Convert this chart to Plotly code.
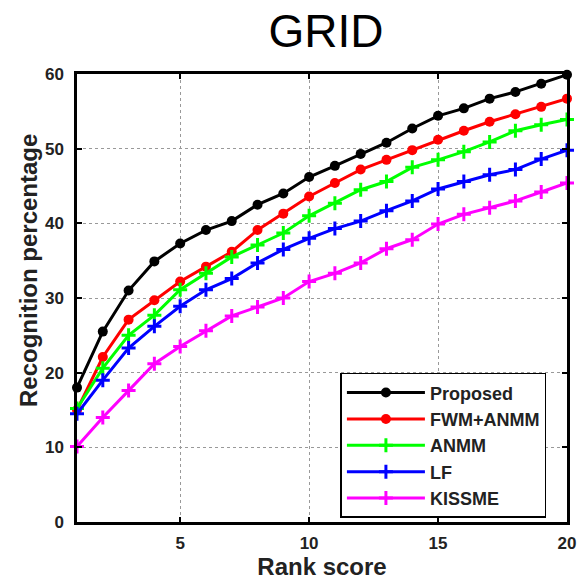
import plotly.graph_objects as go

rank = list(range(1, 21))
proposed = [18.0, 25.5, 31.0, 34.9, 37.3, 39.1, 40.3, 42.5, 44.0, 46.2,
            47.7, 49.3, 50.8, 52.7, 54.4, 55.4, 56.7, 57.6, 58.7, 59.9]
fwm_anmm = [15.0, 22.1, 27.1, 29.7, 32.2, 34.2, 36.2, 39.1, 41.3, 43.6,
            45.4, 47.2, 48.5, 49.8, 51.2, 52.4, 53.6, 54.6, 55.6, 56.7]
anmm = [15.2, 20.6, 25.0, 27.7, 31.1, 33.3, 35.5, 37.1, 38.7, 41.0,
        42.7, 44.5, 45.6, 47.5, 48.5, 49.6, 50.9, 52.4, 53.2, 53.9]
lf = [14.5, 19.0, 23.3, 26.2, 28.9, 31.1, 32.6, 34.7, 36.5, 38.0,
      39.3, 40.3, 41.7, 43.0, 44.6, 45.6, 46.5, 47.2, 48.6, 49.8]
kissme = [10.1, 14.0, 17.6, 21.2, 23.5, 25.6, 27.6, 28.8, 30.0, 32.2,
          33.3, 34.7, 36.6, 37.8, 39.9, 41.2, 42.1, 43.0, 44.2, 45.4]

series = [
    ("Proposed", proposed, "#000000", "circle"),
    ("FWM+ANMM", fwm_anmm, "#ff0000", "circle"),
    ("ANMM", anmm, "#00ff00", "cross-thin"),
    ("LF", lf, "#0000ff", "cross-thin"),
    ("KISSME", kissme, "#ff00ff", "cross-thin"),
]

FONT = "Liberation Sans, Arial"
TXT = "#222222"

fig = go.Figure()
for name, vals, color, sym in series:
    if sym == "circle":
        marker = dict(symbol="circle", size=10, color=color)
    else:
        marker = dict(symbol=sym, size=10, color=color, line=dict(color=color, width=3))
    fig.add_trace(go.Scatter(
        x=rank, y=vals, name=name, mode="lines+markers",
        line=dict(color=color, width=3), marker=marker, cliponaxis=False,
    ))

axis_common = dict(
    showline=True, linecolor="black", linewidth=2.5, mirror="ticks",
    ticks="inside", ticklen=5, tickwidth=1.5, tickcolor="black",
    showgrid=True, gridcolor="#999999", griddash="dot", gridwidth=1,
    zeroline=False, automargin=False,
    tickfont=dict(family=FONT, size=17, color=TXT, weight="bold"),
)

fig.update_layout(
    width=581, height=581,
    margin=dict(l=77, r=14, t=74, b=59),
    paper_bgcolor="white", plot_bgcolor="white",
    title=dict(text="GRID", x=0.561, xanchor="center", y=0.947, yanchor="middle",
               font=dict(family=FONT, size=46, color="black")),
    xaxis=dict(range=[1, 20], tickvals=[5, 10, 15, 20], ticklabelstandoff=4,
               title=dict(text="Rank score", standoff=2,
                          font=dict(family=FONT, size=24, color=TXT, weight="bold")),
               **axis_common),
    yaxis=dict(range=[0, 60], tickvals=[0, 10, 20, 30, 40, 50, 60], ticklabelstandoff=7,
               **axis_common),
    annotations=[dict(
        text="Recognition percentage", textangle=-90,
        xref="paper", yref="paper",
        x=(28 - 77) / 490, y=(522 - 271) / 448,
        xanchor="center", yanchor="middle", showarrow=False,
        font=dict(family=FONT, size=24, color=TXT, weight="bold"),
    )],
    legend=dict(x=0.958, xanchor="right", y=0.333, yanchor="top",
                bordercolor="black", borderwidth=1.5, bgcolor="white",
                itemwidth=78, tracegroupgap=0,
                font=dict(family=FONT, size=18, color=TXT, weight="bold")),
)

fig.write_html("out.html")
